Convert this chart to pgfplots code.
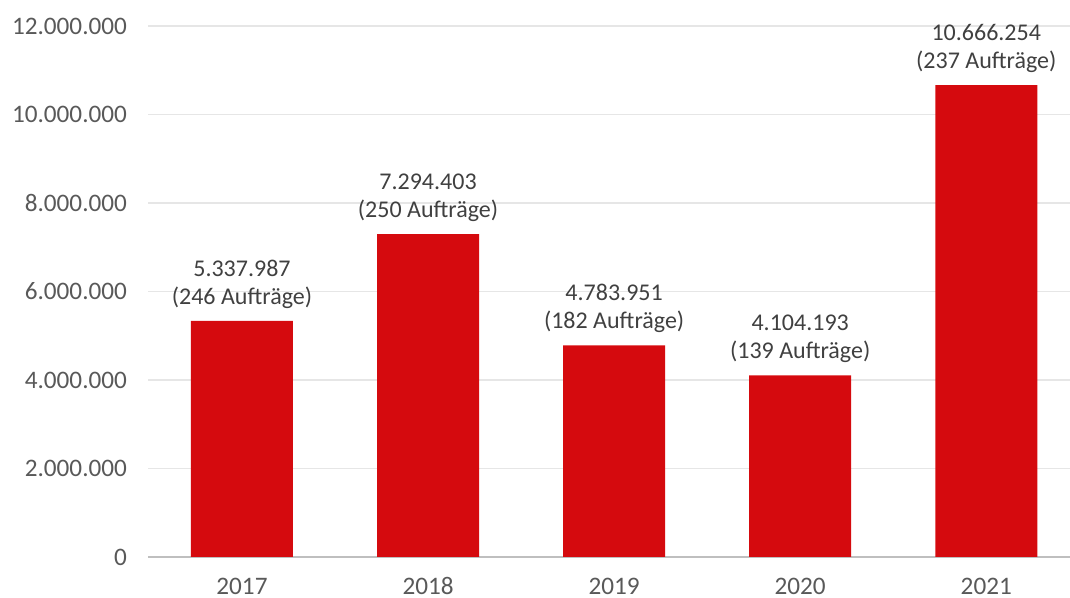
\documentclass[border=0pt]{standalone}
\usepackage{fontspec}
\setmainfont{Carlito}
\usepackage{pgfplots}
\pgfplotsset{compat=1.18}
\definecolor{barred}{RGB}{213,10,14}
\definecolor{ticktxt}{RGB}{89,89,89}
\definecolor{lbltxt}{RGB}{64,64,64}
\definecolor{gridc}{RGB}{230,230,230}
\definecolor{axc}{RGB}{191,191,191}

\begin{document}
\begin{tikzpicture}
\path[use as bounding box] (-74pt,-20.5pt) rectangle (461pt,278.5pt);
\begin{axis}[
  at={(0,0)}, anchor=south west,
  width=461pt, height=265.5pt, scale only axis,
  xmin=-0.505, xmax=4.45,
  ymin=0, ymax=12000000,
  ytick={0,2000000,...,12000000},
  scaled y ticks=false,
  yticklabel style={/pgf/number format/fixed, /pgf/number format/1000 sep={.}},
  /pgf/number format/assume math mode=true,
  xtick=data, xticklabels={2017,2018,2019,2020,2021},
  axis x line*=bottom, axis y line*=left,
  x axis line style={axc, line width=1.1pt, -},
  y axis line style={draw=none},
  ymajorgrids, grid style={gridc, line width=0.6pt},
  major tick length=0pt,
  tick label style={font=\fontsize{12.6}{14}\selectfont, text=ticktxt},
  yticklabel style={xshift=-7pt},
  xticklabel style={yshift=-6pt, text height=9pt, text depth=1pt},
  ybar, bar width=51pt,
  point meta=explicit symbolic,
  nodes near coords,
  every node near coord/.append style={font=\fontsize{12}{14}\selectfont,
    text=lbltxt, align=center, anchor=south, inner sep=0pt, yshift=6pt},
  clip=false,
]
\addplot[fill=barred, draw=none] coordinates {
  (0,5337987) [{5.337.987\\(246 Aufträge)}]
  (1,7294403) [{7.294.403\\(250 Aufträge)}]
  (2,4783951) [{4.783.951\\(182 Aufträge)}]
  (3,4104193) [{4.104.193\\(139 Aufträge)}]
  (4,10666254) [{10.666.254\\(237 Aufträge)}]
};
\end{axis}
\end{tikzpicture}
\end{document}
